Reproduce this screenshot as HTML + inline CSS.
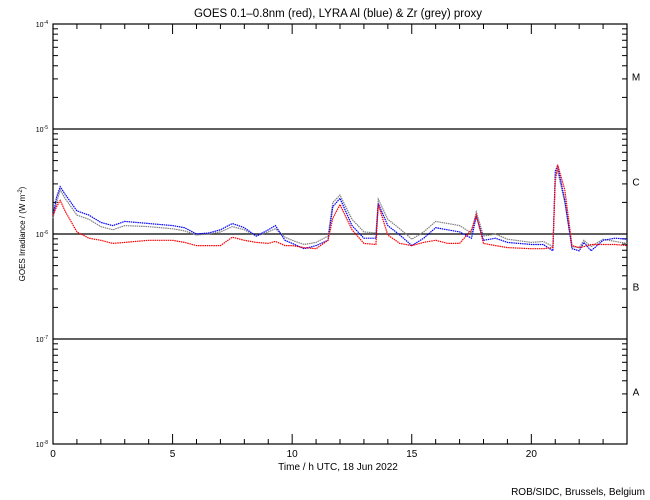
<!DOCTYPE html>
<html><head><meta charset="utf-8"><style>
body{margin:0;background:#fff;}
svg{display:block;font-family:"Liberation Sans",sans-serif;}
</style></head><body>
<svg id="chart" width="650" height="500" viewBox="0 0 650 500">
<rect width="650" height="500" fill="#fff"/>
<text x="338" y="17" font-size="11.5" text-anchor="middle">GOES 0.1–0.8nm (red), LYRA Al (blue) &amp; Zr (grey) proxy</text>
<text transform="translate(25,234) rotate(-90)" font-size="8" text-anchor="middle">GOES Irradiance / (W m<tspan dy="-3" font-size="6">-2</tspan><tspan dy="3">)</tspan></text>
<text x="338" y="470" font-size="10" text-anchor="middle">Time / h UTC, 18 Jun 2022</text>
<text x="645" y="495" font-size="10" text-anchor="end">ROB/SIDC, Brussels, Belgium</text>
<g id="axes"></g>
<g id="series"></g>
</svg>
<script>
const times = [0,0.15,0.3,0.5,1,1.5,2,2.5,3,4,5,5.5,6,6.5,7,7.5,8,8.5,9,9.3,9.7,10,10.5,11,11.5,11.7,12,12.5,13,13.5,13.6,14,14.5,15,15.5,16,16.5,17,17.5,17.7,18,18.5,19,20,20.5,20.9,21.0,21.1,21.4,21.7,22,22.2,22.5,23,23.5,24];
const goesLog = [-5.82,-5.74,-5.68,-5.78,-5.98,-6.04,-6.06,-6.09,-6.08,-6.06,-6.06,-6.08,-6.11,-6.11,-6.11,-6.03,-6.06,-6.08,-6.09,-6.07,-6.11,-6.11,-6.13,-6.14,-6.06,-5.85,-5.72,-5.96,-6.09,-6.10,-5.72,-6.01,-6.09,-6.11,-6.08,-6.06,-6.09,-6.09,-5.96,-5.82,-6.09,-6.11,-6.13,-6.14,-6.14,-6.13,-5.50,-5.34,-5.58,-6.11,-6.13,-6.12,-6.10,-6.10,-6.10,-6.11];
const lyraAlLog = [-5.82,-5.65,-5.55,-5.62,-5.78,-5.82,-5.89,-5.92,-5.88,-5.90,-5.92,-5.94,-6.00,-5.99,-5.96,-5.90,-5.94,-6.02,-5.96,-5.92,-6.06,-6.09,-6.14,-6.11,-6.06,-5.74,-5.66,-5.92,-6.04,-6.04,-5.71,-5.92,-6.01,-6.11,-6.04,-5.94,-5.96,-5.98,-6.04,-5.83,-6.06,-6.04,-6.08,-6.10,-6.10,-6.16,-5.40,-5.35,-5.68,-6.14,-6.16,-6.08,-6.16,-6.06,-6.04,-6.05];
const lyraZrLog = [-5.85,-5.70,-5.58,-5.66,-5.82,-5.86,-5.93,-5.96,-5.92,-5.93,-5.95,-5.97,-6.01,-6.00,-5.98,-5.93,-5.96,-6.02,-5.98,-5.95,-6.03,-6.06,-6.10,-6.08,-6.02,-5.70,-5.63,-5.86,-5.98,-5.99,-5.67,-5.86,-5.95,-6.05,-5.98,-5.88,-5.90,-5.92,-5.99,-5.79,-6.02,-6.00,-6.05,-6.08,-6.07,-6.12,-5.45,-5.40,-5.70,-6.12,-6.13,-6.06,-6.12,-6.05,-6.07,-6.09];
const xTicks = [0,5,10,15,20];
const yDecades = [-4,-5,-6,-7,-8];
const classes = ["M","C","B","A"];

const X0=53,X1=627,Y0=24,DEC=105;
const xs = t => X0 + (X1-X0)*t/24;
const ys = lg => Y0 + (-4-lg)*DEC;
const NS="http://www.w3.org/2000/svg";
const axes=document.getElementById('axes'), ser=document.getElementById('series');
function mk(tag,attrs,parent){const e=document.createElementNS(NS,tag);for(const k in attrs)e.setAttribute(k,attrs[k]);parent.appendChild(e);return e;}

const frame=mk('rect',{x:X0,y:Y0,width:X1-X0,height:4*DEC,fill:'none',stroke:'#000','stroke-width':1.2},axes);


for(let h=0;h<=24;h++){
  const len = (h%5===0)?10:5;
  const x=xs(h);
  const tb=mk('line',{x1:x,x2:x,y1:Y0+4*DEC,y2:Y0+4*DEC-len,stroke:'#000'},axes);
  
  
  const tt=mk('line',{x1:x,x2:x,y1:Y0,y2:Y0+len,stroke:'#000'},axes);
  
  
}
xTicks.forEach(t=>{
  const l=mk('text',{x:xs(t),y:457,'font-size':10,'text-anchor':'middle'},axes);
  l.textContent=t;
  
  
});
yDecades.forEach(d=>{
  const y=ys(d);
  const lab=mk('text',{x:48,y:y+3,'font-size':7,'text-anchor':'end'},axes);
  lab.innerHTML='10<tspan dy="-3" font-size="5">'+d+'</tspan>';
  
  
  if(d>-8){
    for(let m=2;m<=9;m++){
      const yy=ys(d-1+Math.log10(m));
      const a=mk('line',{x1:X0,x2:X0+5,y1:yy,y2:yy,stroke:'#000'},axes);
      
      
      const b=mk('line',{x1:X1,x2:X1-5,y1:yy,y2:yy,stroke:'#000'},axes);
      
      
    }
  }
  if(d<-4&&d>-8){
    const g=mk('line',{x1:X0,x2:X1,y1:y,y2:y,stroke:'#000','stroke-width':1.2},axes);
    
    
  }
});
classes.forEach((c,i)=>{
  const t=mk('text',{x:636,y:ys(-4-i-0.5)+4,'font-size':10,'text-anchor':'middle'},axes);
  t.textContent=c;
  
  
});
function line(arr,color,name){
  const pts=times.map((t,i)=>xs(t).toFixed(1)+','+ys(arr[i]).toFixed(1)).join(' ');
  const p=mk('polyline',{points:pts,fill:'none',stroke:color,'stroke-width':1.2,'stroke-dasharray':'1.5 0.7'},ser);
  
  
}
line(lyraZrLog,'#808080','lyra-zr-series');
line(lyraAlLog,'#0000ff','lyra-al-series');
line(goesLog,'#ff0000','goes-series');
</script>
</body></html>
